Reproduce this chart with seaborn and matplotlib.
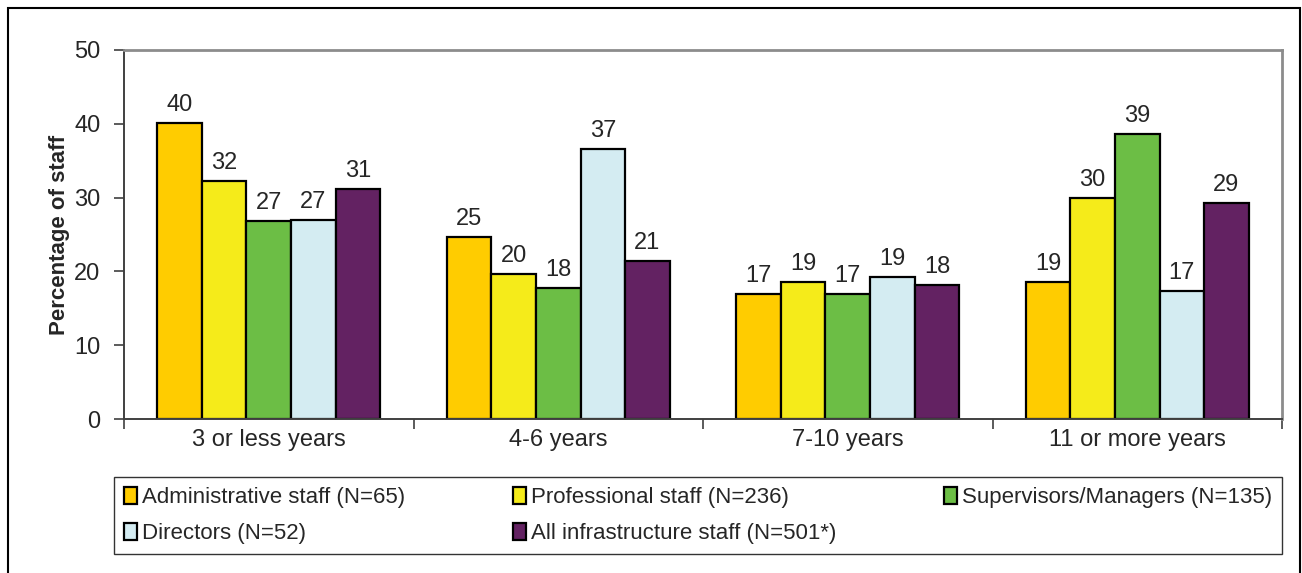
import matplotlib
matplotlib.use('Agg')
import matplotlib.pyplot as plt
import seaborn as sns
import pandas as pd
from matplotlib.patches import Rectangle

# --- Data ---
categories = ['3 or less years', '4-6 years', '7-10 years', '11 or more years']
groups = ['Administrative staff (N=65)', 'Professional staff (N=236)',
          'Supervisors/Managers (N=135)', 'Directors (N=52)',
          'All infrastructure staff (N=501*)']
admin        = [40.1, 24.7, 17.0, 18.6]
professional = [32.3, 19.6, 18.6, 29.9]
supervisors  = [26.8, 17.8, 17.0, 38.6]
directors    = [27.0, 36.6, 19.3, 17.4]
all_staff    = [31.2, 21.4, 18.2, 29.3]
colors = ['#FFCC00', '#F5EB1A', '#6CBE45', '#D4ECF2', '#632262']

series = [admin, professional, supervisors, directors, all_staff]
rows = []
for g, vals in zip(groups, series):
    for c, v in zip(categories, vals):
        rows.append({'Tenure': c, 'Group': g, 'Percent': v})
df = pd.DataFrame(rows)

sns.set_style('white')
plt.rcParams['font.family'] = ['Liberation Sans', 'DejaVu Sans']

fig = plt.figure(figsize=(13.02, 5.73), dpi=100)
ax = fig.add_axes([124/1302, 1 - 419/573, (1282-124)/1302, (419-50)/573])

sns.barplot(data=df, x='Tenure', y='Percent', hue='Group', order=categories,
            hue_order=groups, palette=colors, width=0.77, saturation=1,
            edgecolor='black', linewidth=1.6, ax=ax, legend=True)

for cont in ax.containers:
    ax.bar_label(cont, fmt='%.0f', padding=5, fontsize=17)

ax.set_ylim(0, 50)
ax.set_yticks(range(0, 51, 10))
ax.set_xlim(-0.5, 3.5)
ax.set_xlabel('')
ax.set_ylabel('Percentage of staff', fontsize=16, fontweight='bold', labelpad=3)
ax.tick_params(axis='y', labelsize=17, length=7, width=1.2, color='#404040',
               direction='out', left=True, pad=10)
ax.tick_params(axis='x', which='major', labelsize=17, length=0, pad=7)
ax.set_xticks([-0.5, 0.5, 1.5, 2.5, 3.5], minor=True)
ax.tick_params(axis='x', which='minor', length=7, width=1.2, color='#404040',
               direction='out', bottom=True)

for side in ['left', 'bottom']:
    ax.spines[side].set_color('#404040')
    ax.spines[side].set_linewidth(1.4)
for side in ['top', 'right']:
    ax.spines[side].set_color('#8c8c8c')
    ax.spines[side].set_linewidth(2)

# legend, filled row-wise
handles, labels = ax.get_legend_handles_labels()
ax.get_legend().remove()
order = [0, 3, 1, 4, 2]
leg = fig.legend([handles[i] for i in order], [labels[i] for i in order],
                 loc='upper left', ncol=3, mode='expand',
                 bbox_to_anchor=(114/1302, 20/573, (1282-114)/1302, (553-477)/573),
                 fontsize=16, frameon=True, fancybox=False, edgecolor='black',
                 handlelength=0.6, handleheight=0.8, handletextpad=0.2,
                 borderpad=0.45, labelspacing=0.65, borderaxespad=0)
leg.get_frame().set_linewidth(1.0)

# outer border
fig.patches.append(Rectangle((8/1302, -0.02), (1300-8)/1302, 1.02 - 8/573,
                             transform=fig.transFigure, fill=False,
                             edgecolor='black', linewidth=1.5))

fig.savefig('out.png', dpi=100)
